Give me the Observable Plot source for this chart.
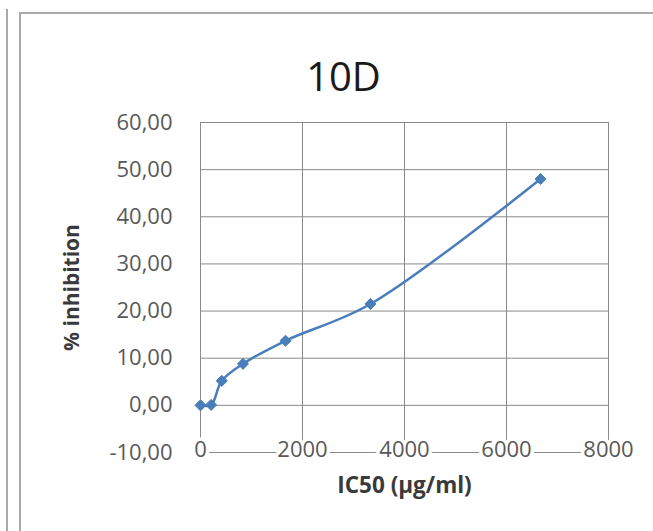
<!DOCTYPE html>
<html>
<head>
<meta charset="utf-8">
<script src="https://cdn.jsdelivr.net/npm/d3@7"></script>
<script src="https://cdn.jsdelivr.net/npm/@observablehq/plot@0.6"></script>
<style>
  html, body { margin: 0; padding: 0; background: #fff; }
  #wrap { position: relative; width: 653px; height: 531px; overflow: hidden; }
  #wrap svg { position: absolute; left: 0; top: 0; }
  .edge { position: absolute; background: #a9a9a9; }
</style>
</head>
<body>
<div id="wrap">
  <div class="edge" style="left:6px; top:9px; width:2px; height:522px;"></div>
  <div class="edge" style="left:19px; top:12px; width:2px; height:519px;"></div>
  <div class="edge" style="left:19px; top:12px; width:634px; height:2px;"></div>
</div>
<script>
const title = "10D";
const xLabel = "IC50 (µg/ml)";
const yLabel = "% inhibition";
const concentrations = [0, 208, 417, 833, 1667, 3333, 6667];
const inhibition = [0.0, 0.1, 5.2, 8.8, 13.7, 21.5, 48.0];
const xTicks = [0, 2000, 4000, 6000, 8000];
const yTicks = [-10, 0, 10, 20, 30, 40, 50, 60];

const data = concentrations.map((c, i) => ({x: c, y: inhibition[i]}));
const fmt = d => d.toFixed(2).replace(".", ",");
const blue = "#4a7ebb";
const grey = "#595959";
const dark = "#3a3a3a";
const font = "Open Sans";

const chart = Plot.plot({
  width: 653,
  height: 531,
  marginLeft: 200,
  marginRight: 45,
  marginTop: 122,
  marginBottom: 79,
  style: {fontFamily: font, background: "transparent", overflow: "visible"},
  x: {domain: [0, 8000], ticks: xTicks, axis: null},
  y: {domain: [-10, 60], ticks: yTicks},
  marks: [
    Plot.gridX(xTicks, {stroke: "#8a8a8a", strokeOpacity: 1, strokeWidth: 1}),
    Plot.gridY(yTicks, {stroke: "#8a8a8a", strokeOpacity: 1, strokeWidth: 1}),
    Plot.axisY(yTicks, {tickSize: 0, tickPadding: 28, tickFormat: fmt, fontSize: 22, fill: grey, label: null}),
    Plot.text(xTicks, {x: d => d, y: -10, text: d => String(d), fontSize: 22, fill: grey,
      stroke: "white", strokeWidth: 7, dy: -3}),
    Plot.line(data, {x: "x", y: "y", stroke: blue, strokeWidth: 2.5, curve: "catmull-rom"}),
    Plot.dot(data, {x: "x", y: "y", symbol: "diamond2", r: 5, fill: blue, stroke: blue, strokeWidth: 1}),
    Plot.text([title], {frameAnchor: "top", dx: -61, dy: -60, fontSize: 40, fill: "#1a1a1a"}),
    Plot.text([yLabel], {frameAnchor: "left", textAnchor: "middle", dx: -128, rotate: -90, fontSize: 21, fontWeight: "bold", fill: dark}),
    Plot.text([xLabel], {frameAnchor: "bottom", dy: 40, fontSize: 22.5, fontWeight: "bold", fill: dark})
  ]
});
document.getElementById("wrap").appendChild(chart);
</script>
</body>
</html>
